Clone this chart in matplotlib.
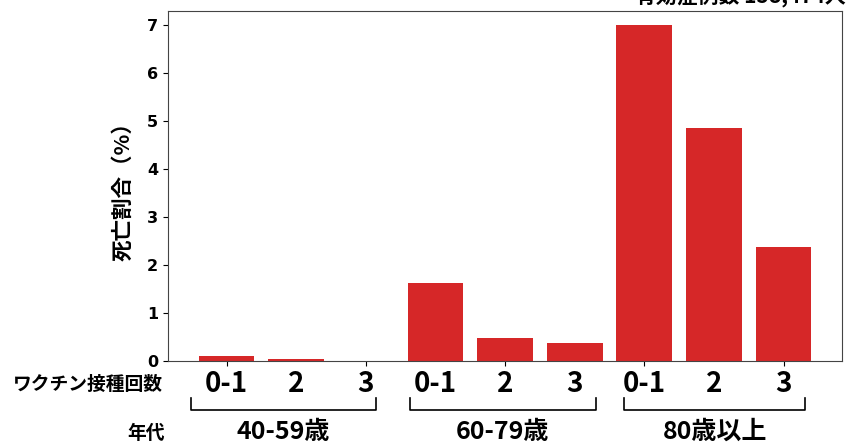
import numpy as np
import matplotlib.pyplot as plt
from matplotlib import transforms

plt.rcParams['font.family'] = ['Noto Sans CJK JP', 'DejaVu Sans']

# data
age_groups = ["40-59歳", "60-79歳", "80歳以上"]
dose_labels = ["0-1", "2", "3"]
death_rate = [0.10, 0.05, 0.01,
              1.62, 0.48, 0.38,
              7.00, 4.85, 2.38]
y_ticks = [0, 1, 2, 3, 4, 5, 6, 7]

x = np.arange(len(death_rate))

fig = plt.figure(figsize=(8.46, 4.47), dpi=100)
ax = fig.add_axes([0.1986, 0.1924, 0.7967, 0.783])

ax.bar(x, death_rate, width=0.8, color='#d62728')
ax.set_xlim(-0.84, 8.84)
ax.set_ylim(0, 7.29)
ax.set_xticks([0, 2, 4, 6, 8])
ax.set_xticklabels([])
ax.set_yticks(y_ticks)
ax.set_yticklabels([str(t) for t in y_ticks], fontweight='bold', fontsize=11.5,
                   family='DejaVu Sans')
for s in ax.spines.values():
    s.set_color('#444444')
ax.set_ylabel("死亡割合（%）", fontsize=15.5, fontweight='bold', labelpad=10)

trans = transforms.blended_transform_factory(ax.transData, ax.transAxes)

# dose labels under each bar
for i in range(len(death_rate)):
    ax.text(x[i], -0.066, dose_labels[i % 3], transform=trans, ha='center', va='center',
            fontsize=20, fontweight='bold', clip_on=False)

# brackets and age group labels
br_left = [-0.51, 2.63, 5.71]
br_right = [2.14, 5.31, 8.31]
for g in range(len(age_groups)):
    xl, xr = br_left[g], br_right[g]
    ax.plot([xl, xl, xr, xr], [-0.106, -0.140, -0.140, -0.106], transform=trans,
            color='black', lw=1.2, clip_on=False, solid_joinstyle='round')
    ax.text((xl + xr) / 2, -0.203, age_groups[g], transform=trans, ha='center',
            va='center', fontsize=18, fontweight='bold', clip_on=False)

fig.text(0.193, 0.141, "ワクチン接種回数", ha='right', va='center', fontsize=13.5,
         fontweight='bold')
fig.text(0.195, 0.030, "年代", ha='right', va='center', fontsize=13.5,
         fontweight='bold')
fig.text(1.0, 0.993, "有効症例数 158,474人", ha='right', va='baseline', fontsize=15,
         fontweight='bold')

fig.savefig("out.png", dpi=100)
